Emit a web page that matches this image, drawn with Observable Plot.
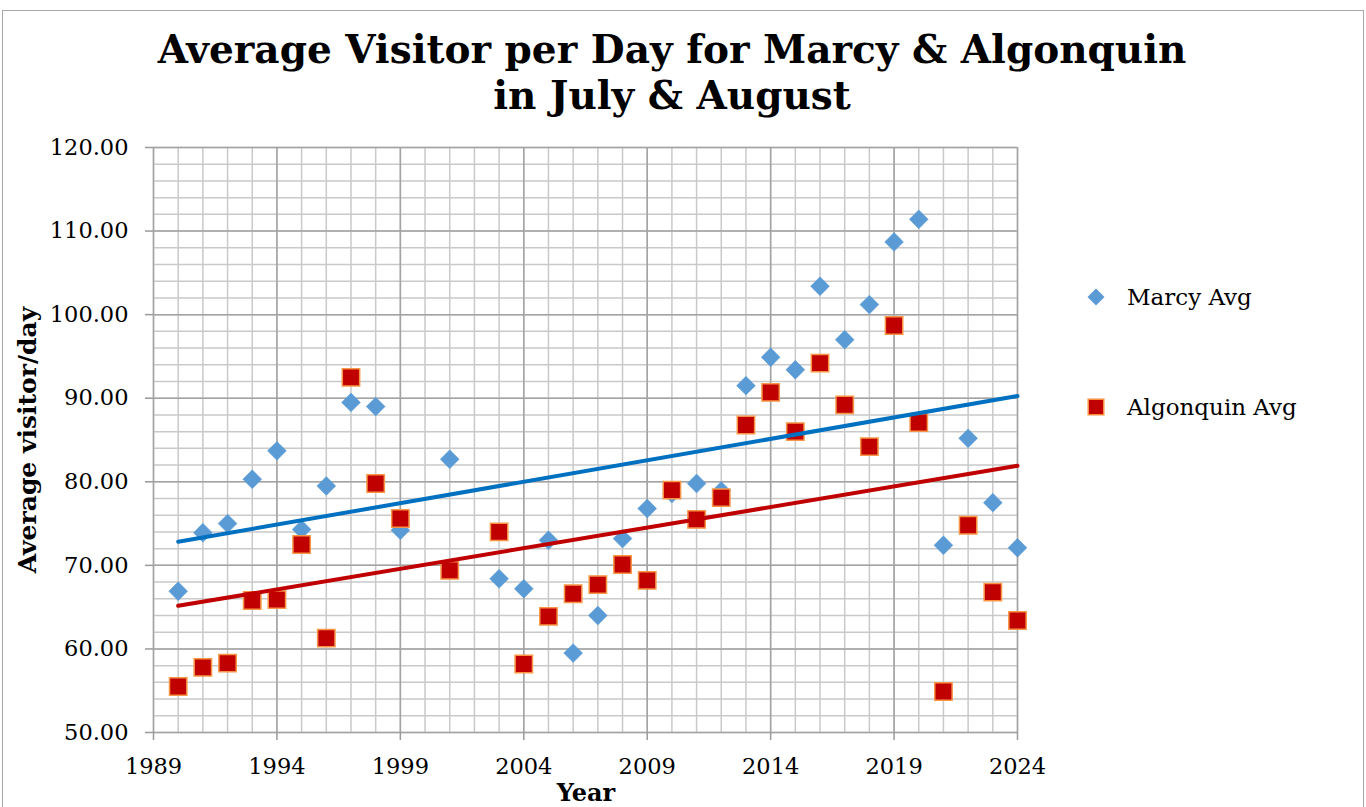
<!DOCTYPE html>
<html>
<head>
<meta charset="utf-8">
<script src="https://cdn.jsdelivr.net/npm/d3@7"></script>
<script src="https://cdn.jsdelivr.net/npm/@observablehq/plot@0.6"></script>
<style>
  html, body { margin: 0; padding: 0; background: #fff; overflow: hidden; }
  #wrap { position: relative; width: 1366px; height: 807px; overflow: hidden; background: #fff; }
  #border { position: absolute; left: 2px; top: 10px; width: 1362px; height: 830px; border: 1.5px solid #a9a9a9; box-sizing: border-box; }
  #chart { position: absolute; left: 0; top: 0; }
  #title { position: absolute; left: 0; top: 26px; width: 1344px; text-align: center;
           font: bold 39px "DejaVu Serif", serif; line-height: 46px; color: #000; white-space: nowrap; }
  #ylabel { position: absolute; left: 27px; top: 440px; transform: translate(-50%, -50%) rotate(-90deg);
            font: bold 25px "DejaVu Serif", serif; line-height: 1; white-space: nowrap; color: #000; }
  #xlabel { position: absolute; left: 586px; top: 781px; transform: translateX(-50%);
            font: bold 24px "DejaVu Serif", serif; line-height: 1; white-space: nowrap; color: #000; }
  #legend { position: absolute; left: 1070px; top: 270px; }
</style>
</head>
<body>
<div id="wrap">
  <div id="border"></div>
  <div id="chart"></div>
  <div id="title"></div>
  <div id="ylabel"></div>
  <div id="xlabel"></div>
  <div id="legend"></div>
</div>
<script>
// ---- Data ----
const titleLines = ["Average Visitor per Day for Marcy & Algonquin", "in July & August"];
const yAxisTitle = "Average visitor/day";
const xAxisTitle = "Year";
const seriesNames = ["Marcy Avg", "Algonquin Avg"];

const years = [1990, 1991, 1992, 1993, 1994, 1995, 1996, 1997, 1998, 1999,
               2001, 2003, 2004, 2005, 2006, 2007, 2008, 2009, 2010, 2011,
               2012, 2013, 2014, 2015, 2016, 2017, 2018, 2019, 2020, 2021,
               2022, 2023, 2024];
const marcyAvg = [66.9, 73.9, 75.0, 80.3, 83.7, 74.3, 79.5, 89.5, 89.0, 74.2,
                  82.7, 68.4, 67.2, 73.0, 59.5, 64.0, 73.2, 76.8, 78.6, 79.8,
                  78.9, 91.5, 94.9, 93.4, 103.4, 97.0, 101.2, 108.7, 111.4, 72.4,
                  85.2, 77.5, 72.1];
const algonquinAvg = [55.5, 57.8, 58.3, 65.8, 65.9, 72.5, 61.3, 92.5, 79.8, 75.6,
                      69.4, 74.0, 58.2, 63.9, 66.6, 67.7, 70.1, 68.2, 79.0, 75.5,
                      78.1, 86.8, 90.7, 86.0, 94.2, 89.2, 84.2, 98.7, 87.1, 54.9,
                      74.8, 66.8, 63.4];

const xTickYears = [1989, 1994, 1999, 2004, 2009, 2014, 2019, 2024];
const yTickValues = [50, 60, 70, 80, 90, 100, 110, 120];

// ---- Styles ----
const marcyColor = "#5b9bd5";
const marcyTrend = "#0070c0";
const algFill = "#c00000";
const algStroke = "#f79646";
const algTrend = "#c00000";

const data = years.map((year, i) => ({year, marcy: marcyAvg[i], algonquin: algonquinAvg[i]}));

const minorX = d3.range(xTickYears[0], xTickYears[xTickYears.length - 1] + 1, 1);
const minorY = d3.range(yTickValues[0], yTickValues[yTickValues.length - 1] + 0.001, 2);

const chart = Plot.plot({
  width: 1366,
  height: 807,
  marginLeft: 153,
  marginRight: 349,
  marginTop: 147,
  marginBottom: 75,
  x: {domain: [xTickYears[0], xTickYears[xTickYears.length - 1]]},
  y: {domain: [yTickValues[0], yTickValues[yTickValues.length - 1]]},
  style: {fontFamily: '"DejaVu Serif", serif', fontSize: "22px", color: "#000", background: "transparent", overflow: "visible"},
  marks: [
    Plot.gridX(minorX, {stroke: "#c9c9c9", strokeOpacity: 1, strokeWidth: 1.5}),
    Plot.gridY(minorY, {stroke: "#c9c9c9", strokeOpacity: 1, strokeWidth: 1.5}),
    Plot.gridX(xTickYears, {stroke: "#a3a3a3", strokeOpacity: 1, strokeWidth: 1.5}),
    Plot.gridY(yTickValues, {stroke: "#a3a3a3", strokeOpacity: 1, strokeWidth: 1.5}),
    Plot.axisX(xTickYears, {tickSize: 8, tickPadding: 18, tickFormat: d => String(d), label: null,
                            stroke: "#9a9a9a", strokeWidth: 1.5, fontSize: 22.5, fill: "#000"}),
    Plot.axisY(yTickValues, {tickSize: 8, tickPadding: 17, tickFormat: d => d.toFixed(2), label: null,
                             stroke: "#9a9a9a", strokeWidth: 1.5, fontSize: 22.5, fill: "#000"}),
    Plot.dot(data, {x: "year", y: "marcy", symbol: "diamond2", r: 8.5, fill: marcyColor, stroke: marcyColor, strokeWidth: 0.5}),
    Plot.dot(data, {x: "year", y: "algonquin", symbol: "square", r: 9.8, fill: algFill, stroke: algStroke, strokeWidth: 1.5}),
    Plot.linearRegressionY(data, {x: "year", y: "marcy", stroke: marcyTrend, strokeWidth: 4, ci: 0}),
    Plot.linearRegressionY(data, {x: "year", y: "algonquin", stroke: algTrend, strokeWidth: 4, ci: 0})
  ]
});
document.getElementById("chart").appendChild(chart);

// Title & axis titles
document.getElementById("title").innerHTML = titleLines.map(t => `<div>${t.replace(/&/g, "&amp;")}</div>`).join("");
document.getElementById("ylabel").textContent = yAxisTitle;
document.getElementById("xlabel").textContent = xAxisTitle;

// Legend
const legendSvg = d3.create("svg").attr("width", 296).attr("height", 160)
  .style("font-family", '"DejaVu Serif", serif').style("font-size", "23px");
const g1 = legendSvg.append("g").attr("transform", "translate(26,27)");
g1.append("path").attr("d", "M0,-8.5L8.5,0L0,8.5L-8.5,0Z").attr("fill", marcyColor);
g1.append("text").attr("x", 31).attr("y", 8).text(seriesNames[0]);
const g2 = legendSvg.append("g").attr("transform", "translate(26,137)");
g2.append("rect").attr("x", -7.8).attr("y", -7.8).attr("width", 15.6).attr("height", 15.6)
  .attr("fill", algFill).attr("stroke", algStroke).attr("stroke-width", 1.5);
g2.append("text").attr("x", 31).attr("y", 8).text(seriesNames[1]);
document.getElementById("legend").appendChild(legendSvg.node());
</script>
</body>
</html>
